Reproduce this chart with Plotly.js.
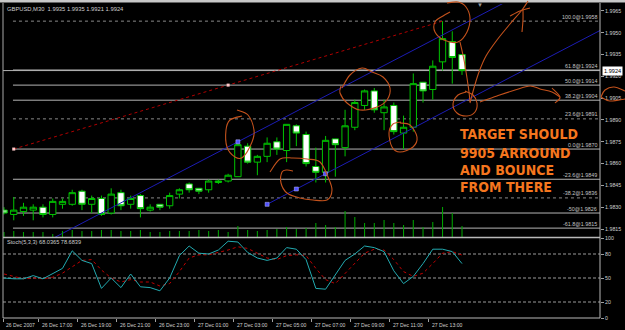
<!DOCTYPE html>
<html><head><meta charset="utf-8">
<script src="https://cdn.plot.ly/plotly-3.0.1.min.js"></script>
<style>html,body{margin:0;padding:0;background:#000;overflow:hidden}#chart{width:625px;height:330px}</style>
</head><body><div id="chart"></div>
<script>
// ---------------- data ----------------
const chartTitle = "GBPUSD,M30  1.9935 1.9935 1.9921 1.9924";
const stochTitle = "Stoch(5,3,3) 68.0365 78.6839";
const bars = Array.from({length:48}, (_, i) => i); // M30 bars, 26 Dec 15:00 .. 27 Dec 14:30
const opens  = [1.9828,1.9825,1.9827,1.9828,1.9830,1.9825,1.9832,1.9832,1.9841,1.9832,1.9836,1.9826,1.9840,1.9832,1.9838,1.9828,1.9832,1.9831,1.9839,1.9846,1.9843,1.9842,1.9847,1.9848,1.9851,1.9872,1.9861,1.9865,1.9875,1.9869,1.9886,1.9880,1.9858,1.9854,1.9877,1.9871,1.9885,1.9900,1.9910,1.9895,1.9900,1.9881,1.9885,1.9916,1.9911,1.9930,1.9944,1.9935];
const highs  = [1.9830,1.9837,1.9833,1.9832,1.9832,1.9836,1.9836,1.9842,1.9842,1.9838,1.9838,1.9843,1.9842,1.9838,1.9839,1.9832,1.9832,1.9840,1.9843,1.9847,1.9843,1.9849,1.9849,1.9853,1.9875,1.9874,1.9866,1.9878,1.9878,1.9887,1.9887,1.9882,1.9871,1.9879,1.9877,1.9897,1.9904,1.9911,1.9912,1.9904,1.9902,1.9893,1.9922,1.9916,1.9931,1.9958,1.9951,1.9935];
const lows   = [1.9825,1.9821,1.9824,1.9821,1.9823,1.9823,1.9829,1.9831,1.9828,1.9826,1.9824,1.9825,1.9828,1.9829,1.9823,1.9827,1.9828,1.9829,1.9836,1.9840,1.9839,1.9840,1.9846,1.9847,1.9851,1.9860,1.9852,1.9861,1.9866,1.9861,1.9872,1.9858,1.9847,1.9847,1.9851,1.9865,1.9883,1.9897,1.9895,1.9883,1.9880,1.9870,1.9882,1.9902,1.9904,1.9924,1.9915,1.9921];
const closes = [1.9826,1.9828,1.9830,1.9830,1.9825,1.9834,1.9834,1.9840,1.9832,1.9836,1.9825,1.9839,1.9831,1.9836,1.9829,1.9830,1.9830,1.9838,1.9842,1.9842,1.9841,1.9848,1.9848,1.9852,1.9873,1.9861,1.9865,1.9874,1.9870,1.9887,1.9881,1.9860,1.9854,1.9876,1.9873,1.9886,1.9902,1.9910,1.9897,1.9899,1.9882,1.9885,1.9915,1.9910,1.9927,1.9946,1.9933,1.9924];
const volumes = [200,240,200,200,200,120,240,280,240,240,280,280,240,240,280,200,200,240,240,240,280,240,280,200,440,280,240,280,320,400,320,360,560,480,400,1040,800,560,560,680,560,480,680,400,600,1200,960,440];
const stochK = [50,49,49,53,49,55,62,84,72,68,37,50,38,55,39,38,34,50,78,90,81,80,85,96,95,82,75,72,75,88,86,73,37,36,54,72,80,90,88,83,59,43,52,68,86,86,83,68.04];
const stochD = [55,52,49,50,49,51,56,64,72,73,60,50,45,48,45,45,40,43,58,75,79,79,82,85,89,87,81,75,73,78,79,78,62,48,43,56,68,81,86,85,73,58,52,56,68,81,83,78.68];
const timeTickBars = [0,4,8,12,16,20,24,28,32,36,40,44];
const timeTickLabels = ["26 Dec 2007","26 Dec 17:00","26 Dec 19:00","26 Dec 21:00","26 Dec 23:00","27 Dec 01:00","27 Dec 03:00","27 Dec 05:00","27 Dec 07:00","27 Dec 09:00","27 Dec 11:00","27 Dec 13:00"];
const priceTicks = [1.9815,1.9830,1.9845,1.9860,1.9875,1.9890,1.9905,1.9920,1.9935,1.9950,1.9965];
const stochTicks = [0,20,50,80,100];
const stochLevels = [20,50,80];
const fibLow = 1.9870, fibHigh = 1.9958, fibStartBar = 1, fibEndBar = 45;
const fibRatios = [100,61.8,50,38.2,23.6,0,-23.6,-38.2,-50,-61.8];
const fibLabels = ["100.0@1.9958","61.8@1.9924","50.0@1.9914","38.2@1.9904","23.6@1.9891","0.0@1.9870","-23.6@1.9849","-38.2@1.9836","-50@1.9826","-61.8@1.9815"];
const fibDotted = [100,23.6,-38.2];
const lowerLineBars = [27,33], lowerLinePrices = [1.9832,1.9853];
const upperLineBar = 24, upperLinePrice = 1.9875;
const noteLines = ["TARGET SHOULD","9905 ARROUND","AND BOUNCE","FROM THERE"];
// freehand orange strokes, in screen pixels
const scribbles = [
 [[237,110],[248,115],[254,130],[252,142],[243,157],[235,157],[227,147],[226,130],[230,120],[242,116]],
 [[270,172],[280,159],[293,158],[307,159],[320,162],[328,177],[332,190],[327,200],[313,200],[300,198],[287,193],[281,183],[282,172],[287,170],[293,171]],
 [[342,88],[350,75],[362,68],[372,72],[383,77],[390,88],[387,100],[377,107],[360,110],[347,103],[340,93],[341,86]],
 [[400,123],[410,125],[417,137],[413,147],[400,152],[392,147],[389,133],[393,124],[401,122]],
 [[447,3],[458,2],[466,7],[470,18],[467,32],[458,42],[444,40],[435,32],[435,22],[443,16],[450,12]],
 [[460,42],[464,60],[467,78],[469,92],[470,102]],
 [[466,92],[458,95],[453,104],[457,113],[467,116],[475,112],[477,103],[473,95],[465,91]],
 [[470,103],[474,88],[479,72],[486,56],[497,40],[510,24],[522,10],[528,1]],
 [[510,16],[520,11],[530,8]],
 [[523,10],[523,20],[522,32]],
 [[480,102],[497,96],[515,90],[530,86],[540,89],[552,92],[560,97]],
 [[552,88],[560,97],[555,103]],
 [[601,97],[605,90],[614,87],[625,91]],
 [[601,97],[610,101],[625,99]]
];

// ---------------- geometry ----------------
const L = 3, R = 600, T = 4, B = 318;
const px2x = px => (px - L) / (R - L);
const py2y = py => (B - py) / (B - T);
const xRange = [-0.1026, 61.16];
const priceRange = [1.98095, 1.99698];

const GREEN = '#00c400', GREY = '#b4b4b4', TXT = '#cfcfcf';
const FONT = 'Liberation Sans, Arial, sans-serif';

// ---------------- traces ----------------
const traces = [];
traces.push({type:'bar', x:bars, y:volumes, xaxis:'x', yaxis:'y3', width:0.11,
  marker:{color:'#00a000', line:{width:0}}, hoverinfo:'skip'});

const fibMid = (fibStartBar + fibEndBar) / 2;
traces.push({type:'scatter', mode:'lines', x:[fibStartBar, fibEndBar], y:[fibLow, fibHigh],
  line:{color:'#b00000', width:1, dash:'dot'}, hoverinfo:'skip'});
traces.push({type:'scatter', mode:'markers', x:[fibStartBar, fibMid],
  y:[fibLow, (fibLow + fibHigh) / 2], marker:{symbol:'square', size:3, color:'#ffc8c8'}, hoverinfo:'skip'});

const slope = (lowerLinePrices[1] - lowerLinePrices[0]) / (lowerLineBars[1] - lowerLineBars[0]);
const lowAt = b => lowerLinePrices[0] + slope * (b - lowerLineBars[0]);
const upAt = b => upperLinePrice + slope * (b - upperLineBar);
traces.push({type:'scatter', mode:'lines', x:[lowerLineBars[0], xRange[1]], y:[lowAt(lowerLineBars[0]), lowAt(xRange[1])],
  line:{color:'#1c1cb4', width:1}, hoverinfo:'skip'});
traces.push({type:'scatter', mode:'lines', x:[0, xRange[1]], y:[upAt(0), upAt(xRange[1])],
  line:{color:'#1c1cb4', width:1}, hoverinfo:'skip'});
const midLow = (lowerLineBars[0] + lowerLineBars[1]) / 2;
traces.push({type:'scatter', mode:'markers', x:[lowerLineBars[0], midLow, lowerLineBars[1], upperLineBar],
  y:[lowAt(lowerLineBars[0]), lowAt(midLow), lowAt(lowerLineBars[1]), upperLinePrice],
  marker:{symbol:'square', size:4, color:'#5050ff', line:{color:'#c0c0ff', width:0.5}}, hoverinfo:'skip'});

traces.push({type:'candlestick', x:bars, open:opens, high:highs, low:lows, close:closes,
  xaxis:'x', yaxis:'y', whiskerwidth:0,
  increasing:{line:{color:GREEN, width:1}, fillcolor:'#000000'},
  decreasing:{line:{color:GREEN, width:1}, fillcolor:'#ffffff'},
  hoverinfo:'skip'});

traces.push({type:'scatter', mode:'lines', x:bars, y:stochD, xaxis:'x', yaxis:'y2',
  line:{color:'#c00000', width:1, dash:'dot'}, hoverinfo:'skip'});
traces.push({type:'scatter', mode:'lines', x:bars, y:stochK, xaxis:'x', yaxis:'y2',
  line:{color:'#22aab0', width:1}, hoverinfo:'skip'});

// ---------------- shapes ----------------
const shapes = [];
shapes.push({type:'rect', xref:'paper', yref:'paper', x0:px2x(0), x1:px2x(625), y0:py2y(0), y1:py2y(2.5),
  fillcolor:'#c8c8c8', line:{width:0}, layer:'above'});
fibRatios.forEach((r) => {
  const p = fibLow + (fibHigh - fibLow) * r / 100;
  const dotted = fibDotted.includes(r);
  shapes.push({type:'line', xref:'x', yref:'y', x0:fibStartBar - 0.08, x1:xRange[1], y0:p, y1:p,
    line:{color: dotted ? '#8a8a8a' : GREY, width:1, dash: dotted ? 'dot' : 'solid'}, layer:'below'});
});
shapes.push({type:'line', xref:'paper', yref:'y', x0:0, x1:1, y0:closes[closes.length-1], y1:closes[closes.length-1],
  line:{color:GREY, width:1}, layer:'below'});
stochLevels.forEach(v => shapes.push({type:'line', xref:'paper', yref:'y2', x0:0, x1:1, y0:v, y1:v,
  line:{color:'#9a9a9a', width:1, dash:'3px,2px'}, layer:'below'}));
const border = (x0,y0,x1,y1,c,w) => shapes.push({type:'line', xref:'paper', yref:'paper',
  x0:px2x(x0), x1:px2x(x1), y0:py2y(y0), y1:py2y(y1), line:{color:c, width:w}, layer:'above'});
border(L, 3, L, B, '#a8a8a8', 1);
border(R, 3, R, B, '#b8b8b8', 1);
border(L, 237.5, R, 237.5, '#b8b8b8', 1.5);
border(L, B, R, B, '#b8b8b8', 1);
function smoothPath(pts) {
  const P = pts.map(([x,y]) => [px2x(x), py2y(y)]);
  let d = `M${P[0][0]},${P[0][1]}`;
  for (let i = 0; i < P.length - 1; i++) {
    const p0 = P[Math.max(i-1,0)], p1 = P[i], p2 = P[i+1], p3 = P[Math.min(i+2, P.length-1)];
    const c1 = [p1[0] + (p2[0]-p0[0])/6, p1[1] + (p2[1]-p0[1])/6];
    const c2 = [p2[0] - (p3[0]-p1[0])/6, p2[1] - (p3[1]-p1[1])/6];
    d += ` C${c1[0]},${c1[1]} ${c2[0]},${c2[1]} ${p2[0]},${p2[1]}`;
  }
  return d;
}
scribbles.forEach(s => shapes.push({type:'path', xref:'paper', yref:'paper', path:smoothPath(s),
  line:{color:'#c4521c', width:1.1}, layer:'above'}));

// ---------------- annotations ----------------
const ann = [];
ann.push({xref:'paper', yref:'paper', x:px2x(5), y:py2y(9), xanchor:'left', yanchor:'middle', showarrow:false,
  text:chartTitle, font:{family:FONT, size:5.8, color:TXT}});
ann.push({xref:'paper', yref:'paper', x:px2x(5), y:py2y(242), xanchor:'left', yanchor:'middle', showarrow:false,
  text:stochTitle, font:{family:FONT, size:5.6, color:TXT}});
fibRatios.forEach((r, i) => {
  const p = fibLow + (fibHigh - fibLow) * r / 100;
  ann.push({xref:'paper', yref:'y', x:1, xshift:-2, y:p, yshift:0.5, xanchor:'right', yanchor:'bottom', showarrow:false,
    text:fibLabels[i], font:{family:FONT, size:5.4, color:'#c4c4c4'}, borderpad:0});
});
ann.push({xref:'paper', yref:'y', x:1, xshift:2, y:closes[closes.length-1], xanchor:'left', yanchor:'middle', showarrow:false,
  text:closes[closes.length-1].toFixed(4), bgcolor:'#ffffff', borderpad:1, font:{family:FONT, size:5.6, color:'#000000'}});
const noteY = [134, 153, 170.5, 187];
noteLines.forEach((t, i) => ann.push({xref:'paper', yref:'paper', x:px2x(458), y:py2y(noteY[i]), xanchor:'left', yanchor:'middle',
  showarrow:false, text:t, font:{family:'DejaVu Sans Condensed, sans-serif', size:14, weight:700, color:'#f5761e'}}));
ann.push({xref:'paper', yref:'paper', x:px2x(480), y:py2y(5), xanchor:'center', yanchor:'middle', showarrow:false,
  text:'▼', font:{family:FONT, size:6, color:'#9a9a9a'}});
const tickPos = timeTickBars.map(b => Math.max(b - 0.41, xRange[0] + 0.02));
timeTickLabels.forEach((t, i) => ann.push({xref:'x', yref:'paper', x:tickPos[i], xshift:1, y:py2y(324.5),
  xanchor:'left', yanchor:'middle', showarrow:false, text:t, font:{family:FONT, size:5.1, color:TXT}}));

// ---------------- layout ----------------
const layout = {
  width:625, height:330, margin:{l:L, r:625-R, t:T, b:330-B},
  paper_bgcolor:'#000000', plot_bgcolor:'#000000', showlegend:false,
  boxgap:0.35, boxgroupgap:0,
  font:{family:FONT, color:TXT},
  xaxis:{range:xRange, anchor:'y2', domain:[0,1], showgrid:false, zeroline:false, showline:false,
    rangeslider:{visible:false}, tickvals:tickPos, showticklabels:false,
    ticks:'outside', ticklen:3, tickcolor:'#a0a0a0'},
  yaxis:{domain:[81/314, 1], range:priceRange, side:'right', anchor:'x', showgrid:false, zeroline:false, showline:false,
    tickvals:priceTicks, ticktext:priceTicks.map(p => p.toFixed(4)), ticks:'outside', ticklen:3, tickcolor:'#a0a0a0',
    tickfont:{family:FONT, size:5.3, color:TXT}},
  yaxis2:{domain:[0, 80/314], range:[0,100], side:'right', anchor:'x', showgrid:false, zeroline:false, showline:false,
    tickvals:stochTicks, ticktext:stochTicks.map(String), ticks:'outside', ticklen:3, tickcolor:'#a0a0a0',
    tickfont:{family:FONT, size:5.3, color:TXT}},
  yaxis3:{overlaying:'y', range:[0, 9320], visible:false, anchor:'x'},
  shapes, annotations:ann
};
Plotly.newPlot('chart', traces, layout, {staticPlot:true, displayModeBar:false});
</script></body></html>
